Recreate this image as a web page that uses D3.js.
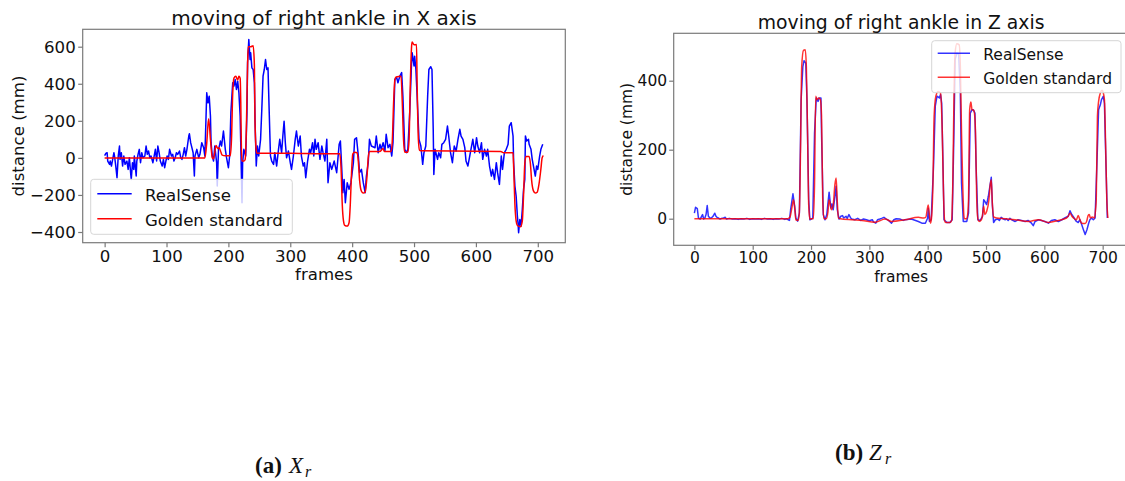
<!DOCTYPE html>
<html><head><meta charset="utf-8">
<script src="https://cdn.jsdelivr.net/npm/d3@7"></script>
<style>html,body{margin:0;padding:0;background:#fff;} svg{display:block;}</style>
</head><body>
<svg id="c" width="1125" height="481"></svg>
<script>
// ---------- data ----------
const frameTicks = [0,100,200,300,400,500,600,700];
const xAxisYTicks = [-400,-200,0,200,400,600];
const zAxisYTicks = [0,200,400];
const seriesNames = ["RealSense","Golden standard"];
const titles = ["moving of right ankle in X axis","moving of right ankle in Z axis"];
const xLabel = "frames";
const yLabel = "distance (mm)";

// X axis – RealSense
const xRsFrames = [
0,2,4,5,8,9,11,13,15,16, 18,20,22,24,25,27,29,31,33,36, 38,40,42,43,45,47,48,51,52,54,
56,58,60,62,65,67,69,71,73,75, 78,80,82,84,86,88,90,93,95,97, 99,101,103,105,108,110,112,114,116,118,
121,123,125,127,129,131,133,136,137,139, 141,143,145,146,149,152,154,157,160,162, 165,167,169,171,172,174,176,178,181,182,
184,186,187,189,192,195,197,200,202,204, 207,209,211,213,215,217,219,222,223,225, 228,230,231,233,235,236,238,240,242,243,
245,247,249,252,254,256,258,260,262,264, 266,268,270,273,275,278,281,283,286,288, 290,292,294,297,300,302,305,308,310,313,
316,318,321,323,325,328,331,333,336,338, 340,342,345,348,351,353,356,359,361,364, 367,371,375,379,381,383,385,387,389,392,
395,398,402,404,407,410,412,415,418,421, 423,426,428,431,437,439,442,445,447,450, 453,455,458,461,464,466,469,472,474,477,
480,482,485,488,490,493,496,497,500,501, 503,505,508,511,514,516,519,522,524,527, 529,531,532,534,538,540,543,545,548,551,
554,556,559,562,565,568,571,574,576,579, 582,584,587,590,592,595,598,601,603,606, 609,611,614,617,619,622,625,627,630,633,
635,638,641,643,646,649,652,654,657,660, 661,663,665,667,668,669,671,673,675,677, 679,680,682,685,686,689,691,693,696,698,
700,703,705,708];
const xRsValues = [
12,24,28,-17,-35,-17,-44,-8,28,10, -44,-107,10,64,-8,28,-44,10,-35,-17, -62,1,-80,-116,-26,-62,10,-98,-17,19,
46,-26,28,1,10,64,19,37,1,10, -26,10,46,-17,64,28,-17,-44,-8,-53, -17,10,-8,46,10,19,-17,1,28,19,
37,1,-8,19,55,10,46,118,130,82, 55,28,-98,10,46,1,19,82,55,10, 351,297,333,225,82,10,-17,64,-26,-152,
46,73,91,64,145,46,1,-53,10,244, 405,387,423,369,414,351,225,-242,-26,46, 10,243,513,639,531,567,486,477,405,207,
-44,64,10,100,261,441,477,531,477,486, 243,10,-17,-35,28,-44,46,100,28,118, 198,82,1,37,-26,-62,10,100,145,64,
118,10,-44,-26,-107,-17,46,28,82,10, 100,46,82,-8,64,28,-17,100,-134,-26, -62,-17,-80,73,91,-44,-188,-116,-242,-134,
-170,-134,-26,100,109,10,-80,-62,-134,-188, -98,-26,100,64,55,118,28,73,46,82, 37,127,55,73,10,82,424,433,405,441,
460,333,46,28,46,243,513,567,496,549, 477,333,100,64,-35,28,64,333,477,492, 477,154,-89,46,-8,28,1,73,82,100,
172,118,28,-26,64,37,100,154,118,100, 55,-17,-44,10,46,100,28,109,64,28, 82,-8,46,10,46,-44,-98,-62,-116,-26,
-80,-143,10,-62,28,46,73,172,190,118, -26,-152,-206,-314,-350,-404,-332,-368,-278,-170, -116,118,91,100,73,46,-8,-44,-98,-44,
-62,10,46,73];

// X axis – Golden standard
const xGsFrames = [
0,162,165,168,171,174,176,178,180,183, 185,188,190,195,203,205,207,209,212,215, 217,219,220,221,222,225,227,229,231,232,
236,240,242,243,245,246,300,350,380,382, 384,386,388,392,395,397,399,401,404,408, 410,412,415,418,421,424,426,428,445,450,
452,463,465,467,469,471,479,481,483,485, 490,492,494,496,497,500,504,505,507,509, 511,640,645,660,661,663,665,667,672,675,
677,679,681,686,688,690,693,696,699,702, 705,707,709];
const xGsValues = [
0,0,80,211,100,0,-5,30,67,50, 55,30,15,12,12,100,350,430,440,420, 440,430,300,50,-17,-17,-10,150,500,600,
600,605,500,200,40,25,25,22,22,-50, -250,-340,-364,-368,-350,-250,-80,20,30,28, -20,-120,-180,-190,-185,-100,0,35,35,50,
35,35,100,300,420,436,440,300,100,30, 30,100,400,600,625,610,612,400,100,40, 38,35,28,28,-50,-250,-340,-365,-372,-340,
-200,-30,8,8,-30,-120,-178,-190,-185,-140, -60,0,13];

// Z axis – RealSense
const zRsFrames = [
0,2,5,7,10,13,14,16,18,20, 22,24,27,29,32,35,37,39,41,44, 47,50,53,55,60,65,70,75,80,85,
90,95,100,105,110,115,120,125,130,135, 140,145,150,155,158,161,163,165,169,172, 174,177,180,183,186,188,191,193,196,198,
201,203,206,209,212,214,217,218,221,224, 227,231,234,236,238,241,243,245,248,251, 254,256,260,262,265,268,270,275,280,285,
290,295,300,305,307,311,314,318,321,325, 329,333,338,342,346,352,358,361,372,384, 390,396,400,401,403,406,410,413,416,420,
422,424,426,428,433,438,442,445,447,450, 453,456,458,461,467,470,473,476,478,481, 483,486,490,494,496,498,501,504,509,511,
513,516,520,523,526,530,533,535,538,541, 544,550,555,561,567,572,578,581,584,590, 595,601,607,612,618,624,630,635,641,644,
647,650,653,655,658,661,664,667,670,673, 676,678,681,684,687,690,693,696,698,701, 703,705,708];
const zRsValues = [
16,33,29,2,-1,9,12,-1,2,12, 38,7,1,2,7,16,7,4,2,-1, 1,2,4,-1,1,-1,0,-2,0,-1,
1,-2,0,-1,0,-2,1,-1,0,-2, 0,-1,1,-2,0,-3,-5,26,72,36, 2,-7,16,345,441,458,451,345,55,-3,
-1,2,248,350,340,350,350,248,12,-3, 12,77,31,43,26,65,94,26,-1,7, 9,2,7,1,12,2,-1,-3,1,-5,
-1,-3,-6,-3,-9,-13,-3,-1,1,4, -1,-5,-13,-3,0,-1,-5,-3,-1,-8, -13,-13,2,30,-8,-3,152,326,355,350,
360,335,180,-3,-11,-11,-3,248,461,480, 478,364,103,-8,-8,16,306,316,316,306, 152,-3,-5,7,55,50,41,65,120,36,
-11,-3,-1,-5,4,-1,-3,0,-5,1, -3,-8,-3,-5,-8,-5,-13,-20,-8,-3, -5,-8,-13,-5,-3,-8,-3,2,7,23,
12,5,-3,-8,-11,-3,-17,-32,-46,-32, -13,-3,2,-3,2,152,316,330,345,355, 335,200,2];

// Z axis – Golden standard
const zGsFrames = [
0,160,164,167,170,172,174,178,180,182, 184,187,190,192,194,196,198,200,204,206, 208,210,213,216,218,220,222,226,229,231,
233,235,238,241,243,245,247,250,270,287, 310,327,338,361,384,393,397,399,401,403, 405,407,409,411,414,418,422,425,427,429,
431,438,441,443,445,447,450,454,456,458, 460,462,463,467,469,470,472,474,476,479, 481,482,484,486,488,492,494,496,498,501,
505,507,509,511,513,518,533,550,573,590, 607,624,638,641,644,647,650,655,658,661, 664,670,673,675,677,679,682,686,688,689,
691,693,696,699,701,703,705,707,709];
const zGsValues = [
0,0,5,30,55,30,-3,-5,20,200, 441,488,490,440,250,40,-2,0,0,100, 355,345,350,345,300,60,0,0,20,55,
40,26,40,100,118,50,2,0,-3,-5, -10,-1,-8,-3,4,2,5,25,40,10, -13,10,100,297,355,369,364,248,80,-5,
-11,-11,-5,100,345,480,507,504,440,250, 103,10,0,0,20,55,316,338,316,314, 290,248,60,0,-8,-3,10,36,12,21,
55,95,113,40,5,2,0,-3,-8,-3, -11,-5,2,8,16,8,2,-3,9,-3, -13,-14,-5,9,12,2,5,2,30,55,
297,340,364,372,365,345,220,60,2];

// ---------- drawing ----------
const FONT = "DejaVu Sans, Verdana, sans-serif";
const SPINE = "#7a7a7a";
const TXT = "#111";
const BLUE = "#0000ff", RED = "#ff0000";
const frameDomain = [-35.45, 744.45];
const svg = d3.select("#c");
const zip = (f, v) => f.slice(0, Math.min(f.length, v.length)).map((d, i) => [d, v[i]]);
const fmt = d => d < 0 ? "\u2212" + Math.abs(d) : String(d);

function panel(cfg, idx) {
  const x = d3.scaleLinear().domain(frameDomain).range([cfg.x0, cfg.x1]);
  const y = d3.scaleLinear().domain(cfg.yDomain).range([cfg.yBot, cfg.yTop]);
  const g = svg.append("g");
  const clipId = "clip" + idx;
  svg.append("clipPath").attr("id", clipId).append("rect")
    .attr("x", cfg.x0).attr("y", cfg.yTop).attr("width", cfg.x1 - cfg.x0).attr("height", cfg.yBot - cfg.yTop);

  const lineLin = d3.line().x(d => x(d[0])).y(d => y(d[1]));
  const lineSm = d3.line().curve(d3.curveMonotoneX).x(d => x(d[0])).y(d => y(d[1]));
  const plot = g.append("g").attr("clip-path", `url(#${clipId})`);
  plot.append("path").attr("d", lineLin(zip(cfg.rsF, cfg.rsV)))
    .attr("fill", "none").attr("stroke", BLUE).attr("stroke-width", cfg.lw)
    .attr("stroke-opacity", cfg.op).attr("stroke-linejoin", "round");
  plot.append("path").attr("d", lineSm(zip(cfg.gsF, cfg.gsV)))
    .attr("fill", "none").attr("stroke", RED).attr("stroke-width", cfg.lw)
    .attr("stroke-opacity", cfg.op).attr("stroke-linejoin", "round");

  // frame
  g.append("rect").attr("x", cfg.x0).attr("y", cfg.yTop)
    .attr("width", cfg.x1 - cfg.x0).attr("height", cfg.yBot - cfg.yTop)
    .attr("fill", "none").attr("stroke", SPINE).attr("stroke-width", 1.2);

  // axes
  const xa = g.append("g").attr("transform", `translate(0,${cfg.yBot})`)
    .call(d3.axisBottom(x).tickValues(frameTicks).tickSize(4.5).tickPadding(3).tickFormat(fmt));
  xa.select(".domain").remove();
  xa.selectAll("line").attr("stroke", SPINE).attr("stroke-width", 1.2);
  xa.selectAll("text").attr("dy", null).attr("y", cfg.xTickBase)
    .attr("font-size", cfg.fs).attr("font-family", FONT).attr("fill", TXT);

  const ya = g.append("g").attr("transform", `translate(${cfg.x0},0)`)
    .call(d3.axisLeft(y).tickValues(cfg.yTicks).tickSize(4.5).tickPadding(cfg.yPad).tickFormat(fmt));
  ya.select(".domain").remove();
  ya.selectAll("line").attr("stroke", SPINE).attr("stroke-width", 1.2);
  ya.selectAll("text").attr("font-size", cfg.fs).attr("font-family", FONT).attr("fill", TXT);

  // title & labels
  const cx = (cfg.x0 + cfg.x1) / 2;
  g.append("text").attr("x", cx).attr("y", cfg.titleY).attr("text-anchor", "middle")
    .attr("font-family", FONT).attr("font-size", cfg.titleFs).attr("fill", TXT).text(titles[idx]);
  g.append("text").attr("x", cx).attr("y", cfg.xlabelY).attr("text-anchor", "middle")
    .attr("font-family", FONT).attr("font-size", cfg.fs).attr("fill", TXT).text(xLabel);
  g.append("text").attr("transform", `translate(${cfg.ylabelX},${(cfg.yTop + cfg.yBot) / 2}) rotate(-90)`)
    .attr("text-anchor", "middle").attr("font-family", FONT).attr("font-size", cfg.fs).attr("fill", TXT).text(yLabel);

  // legend
  const L = cfg.legend;
  const lg = g.append("g");
  lg.append("rect").attr("x", L.x).attr("y", L.y).attr("width", L.w).attr("height", L.h)
    .attr("rx", 3).attr("fill", "#fff").attr("fill-opacity", 0.8)
    .attr("stroke", "#d6d6d6").attr("stroke-width", 1);
  [BLUE, RED].forEach((c, i) => {
    lg.append("line").attr("x1", L.hx0).attr("x2", L.hx1).attr("y1", L.rows[i]).attr("y2", L.rows[i])
      .attr("stroke", c).attr("stroke-width", cfg.lw).attr("stroke-opacity", cfg.op);
    lg.append("text").attr("x", L.tx).attr("y", L.rows[i] + L.dy)
      .attr("font-family", FONT).attr("font-size", cfg.fs).attr("fill", TXT).text(seriesNames[i]);
  });
}

panel({
  x0: 82.7, x1: 565.3, yTop: 29.3, yBot: 242.7, yDomain: [-457.7, 693.9], yTicks: xAxisYTicks,
  rsF: xRsFrames, rsV: xRsValues, gsF: xGsFrames, gsV: xGsValues,
  lw: 1.5, op: 1, fs: 16.6, titleFs: 20, titleY: 25, xlabelY: 280, ylabelX: 23.5,
  xTickBase: 19.8, yPad: 2.5,
  legend: {x: 90.7, y: 179.3, w: 201.6, h: 55, hx0: 97.3, hx1: 131.7, tx: 145, rows: [193.7, 218.7], dy: 6.8}
}, 0);

panel({
  x0: 673.7, x1: 1128.6, yTop: 33.3, yBot: 245.3, yDomain: [-77.1, 537.4], yTicks: zAxisYTicks,
  rsF: zRsFrames, rsV: zRsValues, gsF: zGsFrames, gsV: zGsValues,
  lw: 1.5, op: 0.8, fs: 15.5, titleFs: 18.8, titleY: 29, xlabelY: 281.5, ylabelX: 632.4,
  xTickBase: 18, yPad: 2,
  legend: {x: 931.7, y: 40.7, w: 189.3, h: 52, hx0: 937.7, hx1: 970, tx: 983.3, rows: [53.3, 77.3], dy: 6.5}
}, 1);

// captions
const SERIF = "Liberation Serif, Times New Roman, serif";
function caption(x, yb, tag, sym) {
  const t = svg.append("text").attr("x", x).attr("y", yb).attr("font-family", SERIF).attr("fill", "#111");
  t.append("tspan").attr("font-weight", "bold").attr("font-size", 23).text(tag);
  t.append("tspan").attr("x", x + 34).attr("font-style", "italic").attr("font-size", 23).text(sym);
  t.append("tspan").attr("x", x + 50).attr("dy", 4).attr("font-style", "italic").attr("font-size", 16).text("r");
}
caption(255, 473, "(a)", "X");
caption(835, 460, "(b)", "Z");
</script>
</body></html>
